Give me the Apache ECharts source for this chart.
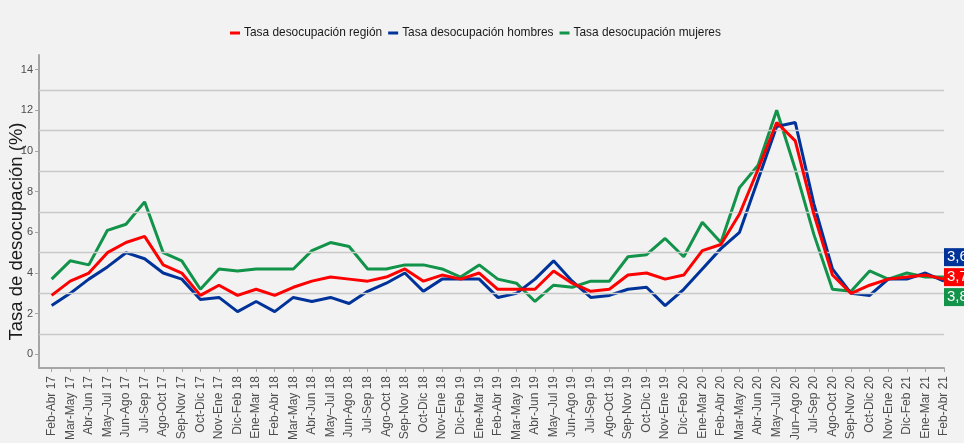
<!DOCTYPE html>
<html>
<head>
<meta charset="utf-8">
<script src="https://cdn.jsdelivr.net/npm/echarts@6/dist/echarts.min.js"></script>
<style>
  html, body { margin: 0; padding: 0; background: #f2f2f2; }
  #chart { width: 964px; height: 443px; }
</style>
</head>
<body>
<div id="chart"></div>
<script>
// periodos móviles trimestrales
const periodos = [
  'Feb-Abr 17', 'Mar-May 17', 'Abr-Jun 17', 'May–Jul 17', 'Jun-Ago 17', 'Jul-Sep 17', 'Ago-Oct 17',
  'Sep-Nov 17', 'Oct-Dic 17', 'Nov-Ene 17', 'Dic-Feb 18', 'Ene-Mar 18', 'Feb-Abr 18', 'Mar-May 18',
  'Abr-Jun 18', 'May–Jul 18', 'Jun-Ago 18', 'Jul-Sep 18', 'Ago-Oct 18', 'Sep-Nov 18', 'Oct-Dic 18',
  'Nov-Ene 18', 'Dic-Feb 19', 'Ene-Mar 19', 'Feb-Abr 19', 'Mar-May 19', 'Abr-Jun 19', 'May–Jul 19',
  'Jun-Ago 19', 'Jul-Sep 19', 'Ago-Oct 19', 'Sep-Nov 19', 'Oct-Dic 19', 'Nov-Ene 19', 'Dic-Feb 20',
  'Ene-Mar 20', 'Feb-Abr 20', 'Mar-May 20', 'Abr-Jun 20', 'May–Jul 20', 'Jun–Ago 20', 'Jul-Sep 20',
  'Ago-Oct 20', 'Sep-Nov 20', 'Oct-Dic 20', 'Nov-Ene 20', 'Dic-Feb 21', 'Ene-Mar 21', 'Feb-Abr 21'
];

const tasaRegion = [
  2.9, 3.6, 4.0, 5.0, 5.5, 5.8, 4.4, 4.0, 2.9, 3.4, 2.9, 3.2, 2.9, 3.3, 3.6, 3.8,
  3.7, 3.6, 3.8, 4.2, 3.6, 3.9, 3.7, 4.0, 3.2, 3.2, 3.2, 4.1, 3.5, 3.1, 3.2, 3.9, 4.0,
  3.7, 3.9, 5.1, 5.4, 6.9, 9.1, 11.4, 10.5, 6.9, 3.9, 3.0, 3.4, 3.7, 3.8, 3.9, 3.7
];
const tasaHombres = [
  2.4, 3.0, 3.7, 4.3, 5.0, 4.7, 4.0, 3.7, 2.7, 2.8, 2.1, 2.6, 2.1, 2.8, 2.6, 2.8,
  2.5, 3.1, 3.5, 4.0, 3.1, 3.7, 3.7, 3.7, 2.8, 3.0, 3.7, 4.6, 3.6, 2.8, 2.9, 3.2, 3.3,
  2.4, 3.2, 4.2, 5.2, 6.0, 8.6, 11.2, 11.4, 7.4, 4.2, 3.0, 2.9, 3.7, 3.7, 4.0, 3.6
];
const tasaMujeres = [
  3.7, 4.6, 4.4, 6.1, 6.4, 7.5, 5.0, 4.6, 3.2, 4.2, 4.1, 4.2, 4.2, 4.2, 5.1, 5.5,
  5.3, 4.2, 4.2, 4.4, 4.4, 4.2, 3.8, 4.4, 3.7, 3.5, 2.6, 3.4, 3.3, 3.6, 3.6, 4.8, 4.9,
  5.7, 4.8, 6.5, 5.5, 8.2, 9.3, 12.0, 9.1, 5.9, 3.2, 3.1, 4.1, 3.7, 4.0, 3.8, 3.8
];

const yTicks = [0, 2, 4, 6, 8, 10, 12, 14];
const gridLines = [1, 3, 5, 7, 9, 11, 13];

const nombres = ['Tasa desocupación región', 'Tasa desocupación hombres', 'Tasa desocupación mujeres'];
const colores = ['#ff0000', '#003399', '#12934a'];

const sans = "'Liberation Sans', Arial, sans-serif";

function serie(i, valores, z, offsetY) {
  return {
    name: nombres[i],
    type: 'line',
    data: valores.map((v, k) => [k, v]),
    symbol: 'none',
    clip: false,
    z: z,
    lineStyle: { color: colores[i], width: 3 },
    itemStyle: { color: colores[i] },
    endLabel: {
      show: true,
      formatter: p => p.value[1].toFixed(1).replace('.', ','),
      color: '#ffffff',
      backgroundColor: colores[i],
      fontFamily: sans,
      fontSize: 15,
      padding: [2, 4, 1, 3],
      distance: 0,
      offset: [0, offsetY]
    }
  };
}

const chart = echarts.init(document.getElementById('chart'));
chart.setOption({
  backgroundColor: '#f2f2f2',
  animation: false,
  legend: {
    data: nombres,
    left: 225,
    top: 22,
    icon: 'rect',
    itemWidth: 10,
    itemHeight: 3,
    itemGap: 6,
    textStyle: { fontFamily: sans, fontSize: 11.9, color: '#1a1a1a', padding: [0, 0, 0, -1] }
  },
  grid: { left: 39, right: 20, top: 55, bottom: 75, outerBoundsMode: 'none' },
  xAxis: {
    type: 'value',
    min: -0.68,
    max: 48,
    splitLine: { show: false },
    axisLine: { show: true, onZero: false, lineStyle: { color: '#a6a6a6', width: 2 } },
    axisTick: { show: true, length: 4, customValues: periodos.map((p, k) => k), lineStyle: { color: '#a6a6a6' } },
    axisLabel: {
      customValues: periodos.map((p, k) => k),
      formatter: v => periodos[Math.round(v)],
      rotate: 90,
      margin: 8,
      fontFamily: sans,
      fontSize: 12,
      color: '#4d4d4d'
    }
  },
  yAxis: {
    type: 'value',
    min: -0.67,
    max: 14.72,
    name: 'Tasa de desocupación (%)',
    nameLocation: 'middle',
    nameRotate: 90,
    nameGap: 13,
    nameMoveOverlap: false,
    nameTextStyle: { fontFamily: sans, fontSize: 18.5, color: '#1a1a1a', padding: [0, 40, 0, 0] },
    splitLine: { show: false },
    axisLine: { show: true, onZero: false, lineStyle: { color: '#a6a6a6', width: 2 } },
    axisTick: { show: true, length: 4, customValues: yTicks, lineStyle: { color: '#a6a6a6' } },
    axisLabel: { customValues: yTicks, margin: 6, fontFamily: sans, fontSize: 11, color: '#4d4d4d' }
  },
  series: [
    {
      name: 'rejilla',
      type: 'line',
      data: [],
      z: 1,
      silent: true,
      markLine: {
        silent: true,
        symbol: ['none', 'none'],
        label: { show: false },
        lineStyle: { color: '#c9c9c9', width: 1.3, type: 'solid' },
        data: gridLines.map(v => ({ yAxis: v }))
      }
    },
    serie(0, tasaRegion, 5, -2),
    serie(1, tasaHombres, 4, -24),
    serie(2, tasaMujeres, 3, 20)
  ]
});
</script>
</body>
</html>
